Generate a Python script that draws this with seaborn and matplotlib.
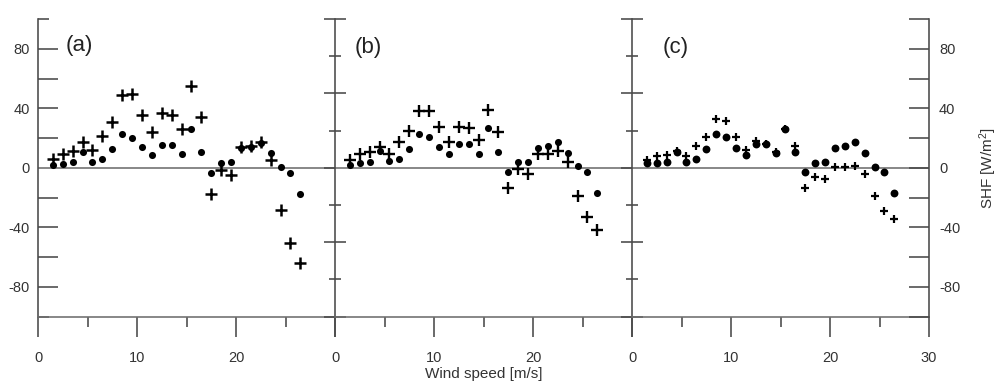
import matplotlib
matplotlib.use("Agg")
import matplotlib.pyplot as plt
import seaborn as sns
import pandas as pd
from matplotlib.ticker import FixedLocator, FixedFormatter

# ---------------- data ----------------
wind_speed = [1.5, 2.5, 3.5, 4.5, 5.5, 6.5, 7.5, 8.5, 9.5, 10.5, 11.5, 12.5, 13.5,
              14.5, 15.5, 16.5, 17.5, 18.5, 19.5, 20.5, 21.5, 22.5, 23.5, 24.5, 25.5, 26.5]
panel_names = ["(a)", "(b)", "(c)"]

dots_a = [1.8, 2.8, 3.8, 10.8, 4.2, 5.8, 12.4, 22.7, 20.1, 13.7, 8.6, 15.6, 15.2, 9.5,
          25.8, 10.8, -3.3, 3.2, 3.7, 13.2, 13.7, 16.5, 10.0, 0.5, -3.2, -17.3]
plus_a = [5.7, 9.2, 11.3, 17.2, 12.1, 21.5, 30.5, 49.0, 49.6, 35.8, 23.8, 36.7, 35.6, 25.8,
          55.0, 34.0, -17.8, -1.4, -5.0, 14.2, 14.5, 17.3, 5.6, -28.4, -50.3, -64.2]

dots_b = [2.2, 3.0, 3.8, 11.2, 4.7, 6.0, 12.5, 23.0, 20.6, 13.9, 9.0, 15.9, 15.7, 9.6,
          26.6, 10.7, -3.0, 3.6, 4.0, 13.4, 14.8, 17.4, 10.3, 1.1, -3.0, -16.8]
plus_b = [5.6, 9.0, 10.7, 14.0, 9.6, 17.4, 24.8, 38.0, 38.0, 27.3, 17.4, 27.3, 26.6, 18.6,
          39.0, 24.0, -13.4, -1.0, -4.0, 9.6, 9.0, 11.4, 4.2, -18.8, -33.0, -42.0]

dots_c = [3.0, 3.4, 3.8, 10.7, 4.0, 5.8, 12.5, 23.0, 20.6, 13.6, 8.5, 15.7, 15.9, 10.0,
          26.0, 10.7, -3.1, 3.4, 3.8, 13.2, 14.5, 17.2, 10.0, 0.7, -3.1, -17.2]
plus_c = [5.0, 8.0, 8.5, 11.5, 7.8, 14.8, 20.8, 32.7, 31.3, 20.6, 12.3, 18.0, 16.3, 10.7,
          26.4, 14.5, -13.4, -6.0, -7.6, 0.7, 0.7, 1.3, -3.8, -19.0, -28.9, -34.5]

x_major = [0, 10, 20, 30]
x_minor = [5, 15, 25]
x_labels_ab = ["0", "10", "20", ""]
x_labels_c = ["0", "10", "20", "30"]
y_outer_ticks = [-80, -60, -40, -20, 0, 20, 40, 60, 80]
y_outer_labels = ["-80", "", "-40", "", "0", "", "40", "", "80"]
y_right_ticks = [-100, -80, -60, -40, -20, 0, 20, 40, 60, 80, 100]
y_right_labels = ["", "-80", "", "-40", "", "0", "", "40", "", "80", ""]
y_inner_major = [-100, -50, 0, 50, 100]
y_inner_minor = [-75, -25, 25, 75]

# ---------------- style ----------------
sns.set_style("white")
plt.rcParams["font.family"] = ["Liberation Sans", "DejaVu Sans"]
plt.rcParams["mathtext.fontset"] = "custom"
plt.rcParams["mathtext.rm"] = "Liberation Sans"
plt.rcParams["mathtext.it"] = "Liberation Sans:italic"
plt.rcParams["mathtext.bf"] = "Liberation Sans:bold"

PX = 0.72  # points per pixel at dpi 100
SPINE = "#4a4a4a"
BOTTOM = "#6e6e6e"
ZERO = "#8a8a8a"
TXT = "#333333"
TICK_FS = 10.5

W, H = 997, 381
fig = plt.figure(figsize=(W / 100, H / 100), dpi=100)

top_px, bot_px = 19.0, 316.7
lefts = [38, 335, 632]
width_px = 297

panel_data = [(dots_a, plus_a), (dots_b, plus_b), (dots_c, plus_c)]
panel_text_pos = [(2.8, 82), (2.0, 81), (3.1, 81)]
dot_sizes = [26, 26, 32]
plus_sizes = [80, 80, 26]
plus_lw = [1.8, 1.7, 1.6]

axes = []
for i in range(3):
    ax = fig.add_axes([lefts[i] / W, 1 - bot_px / H, width_px / W, (bot_px - top_px) / H])
    axes.append(ax)
    dots, plus = panel_data[i]
    df = pd.DataFrame({"speed": wind_speed, "dots": dots, "plus": plus})

    ax.axhline(0, color=ZERO, lw=2.0 * PX, zorder=1)
    sns.scatterplot(data=df, x="speed", y="dots", marker="o", s=dot_sizes[i],
                    color="black", edgecolor="black", linewidth=0, ax=ax, zorder=3)
    sns.scatterplot(data=df, x="speed", y="plus", marker="+", s=plus_sizes[i],
                    color="black", linewidth=plus_lw[i], ax=ax, zorder=3)

    ax.set_xlim(0, 30)
    ax.set_ylim(-100, 100)
    ax.set_xlabel("")
    ax.set_ylabel("")
    ax.patch.set_alpha(0)

    for s in ["top", "right"]:
        ax.spines[s].set_visible(False)
    ax.spines["left"].set_color(SPINE)
    ax.spines["left"].set_linewidth(1.6 * PX)
    ax.spines["bottom"].set_color(BOTTOM)
    ax.spines["bottom"].set_linewidth(1.6 * PX)

    # x axis
    ax.xaxis.set_major_locator(FixedLocator(x_major))
    ax.xaxis.set_major_formatter(FixedFormatter(x_labels_c if i == 2 else x_labels_ab))
    ax.xaxis.set_minor_locator(FixedLocator(x_minor))
    ax.tick_params(axis="x", which="major", direction="out", length=20 * PX,
                   width=1.6 * PX, color=SPINE, pad=10, labelsize=TICK_FS, labelcolor=TXT,
                   bottom=True, top=False)
    ax.tick_params(axis="x", which="minor", direction="out", length=10 * PX,
                   width=1.6 * PX, color=SPINE, bottom=True, top=False)

    # y axis
    if i == 0:
        ax.yaxis.set_major_locator(FixedLocator(y_outer_ticks))
        ax.yaxis.set_major_formatter(FixedFormatter(y_outer_labels))
        ax.yaxis.set_minor_locator(FixedLocator([-100, 100]))
        ax.tick_params(axis="y", which="major", direction="in", length=20 * PX,
                       width=1.6 * PX, color=SPINE, pad=6, labelsize=TICK_FS,
                       labelcolor=TXT, left=True, right=False)
        ax.tick_params(axis="y", which="minor", direction="in", length=11 * PX,
                       width=1.6 * PX, color=SPINE, left=True, right=False)
    else:
        ax.yaxis.set_major_locator(FixedLocator(y_inner_major))
        ax.yaxis.set_minor_locator(FixedLocator(y_inner_minor))
        ax.tick_params(axis="y", which="major", direction="inout", length=23 * PX,
                       width=1.6 * PX, color=SPINE, labelleft=False, left=True, right=False)
        ax.tick_params(axis="y", which="minor", direction="inout", length=12 * PX,
                       width=1.6 * PX, color=SPINE, left=True, right=False)

    tx, ty = panel_text_pos[i]
    ax.text(tx, ty, panel_names[i], ha="left", va="center", fontsize=16, color="#222222")

# x label under middle panel
axes[1].set_xlabel("Wind speed [m/s]", fontsize=11, color=TXT, labelpad=1.5)

# right axis of panel (c)
axr = axes[2].twinx()
axr.set_ylim(-100, 100)
for s in ["top", "left", "bottom"]:
    axr.spines[s].set_visible(False)
axr.spines["right"].set_visible(True)
axr.spines["right"].set_color(SPINE)
axr.spines["right"].set_linewidth(1.6 * PX)
axr.yaxis.set_major_locator(FixedLocator(y_right_ticks))
axr.yaxis.set_major_formatter(FixedFormatter(y_right_labels))
axr.tick_params(axis="y", which="major", direction="in", length=20 * PX,
                width=1.6 * PX, color=SPINE, pad=7.2, labelsize=TICK_FS,
                labelcolor=TXT, right=True, left=False)
axr.set_ylabel(r"SHF [W/m$^{2}$]", fontsize=11, color=TXT, labelpad=12)
axr.patch.set_alpha(0)

fig.savefig("out.png", dpi=100)
